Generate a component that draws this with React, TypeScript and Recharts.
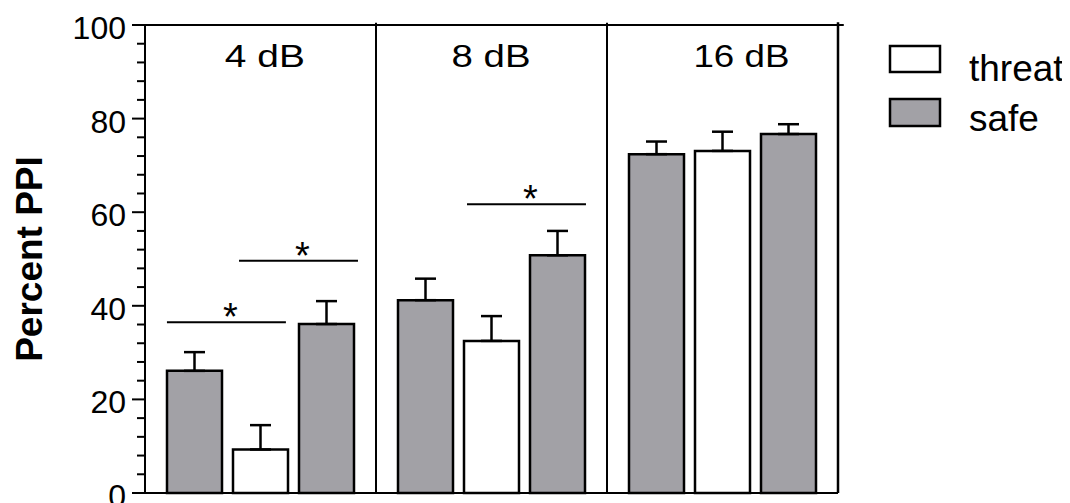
import React from 'react';
import {
  BarChart, Bar, XAxis, YAxis, ErrorBar, ReferenceLine, ReferenceDot, Legend,
} from 'recharts';

// ---- data ----
const categories = ['4 dB', '8 dB', '16 dB'];
const safeFirst = [26.1, 41.2, 72.4];
const safeFirstErr = [4.0, 4.6, 2.7];
const threat = [9.3, 32.5, 73.1];
const threatErr = [5.2, 5.3, 4.1];
const safeSecond = [36.1, 50.8, 76.7];
const safeSecondErr = [4.9, 5.2, 2.1];
const yTicks = [0, 4, 8, 12, 16, 20, 24, 28, 32, 36, 40, 44, 48, 52, 56, 60, 64, 68, 72, 76, 80, 84, 88, 92, 96, 100];
// significance bars: panel-unit x range, y value
const sigFrom = [0.095, 0.407, 1.394];
const sigTo = [0.61, 0.922, 1.909];
const sigY = [36.5, 49.6, 61.7];
// panel title positions (panel units) and baseline value
const titleX = [0.519, 1.498, 2.582];
const titleLen = [80, 79, 96];
const titleY = 91;
const panelEdges = [1, 2];

const GRAY = '#a2a1a6';
const FONT = '"Liberation Sans", Arial, Helvetica, sans-serif';

const data = categories.map((name, i) => ({
  name,
  panel: i + 0.5,
  a: safeFirst[i], aErr: [0, safeFirstErr[i]],
  b: threat[i], bErr: [0, threatErr[i]],
  c: safeSecond[i], cErr: [0, safeSecondErr[i]],
}));

const YTick = (props: any) => {
  const { x, y, payload } = props;
  const major = payload.value % 20 === 0;
  return (
    <g>
      <line x1={x - (major ? 13 : 8)} x2={x} y1={y} y2={y} stroke="#000" strokeWidth={2} />
      {major && (
        <text x={x - 19} y={y + 14} textAnchor="end" fontSize={32} fontFamily={FONT} fill="#000">
          {payload.value}
        </text>
      )}
    </g>
  );
};

const YLabel = (props: any) => {
  const vb = props.viewBox || {};
  const cx = vb.x - 23;
  const cy = vb.y + vb.height / 2;
  return (
    <text
      transform={`translate(${cx},${cy}) rotate(-90)`}
      textAnchor="middle"
      fontSize={37}
      fontWeight="bold"
      fontFamily={FONT}
      fill="#000"
    >
      Percent PPI
    </text>
  );
};

const starLabel = (props: any) => {
  const vb = props.viewBox || {};
  const x = (vb.x ?? vb.x1 ?? 0) + (vb.width ?? 0) / 2 + 4;
  const y = (vb.y ?? vb.y1 ?? 0) + 8;
  return (
    <text x={x} y={y} textAnchor="middle" fontSize={38} fontFamily={FONT} fill="#000">*</text>
  );
};

const makeTitle = (text: string, len: number) => (props: any) => {
  const vb = props.viewBox || {};
  const x = vb.x + (vb.width ?? 0) / 2;
  const y = vb.y + (vb.height ?? 0) / 2;
  return (
    <text x={x} y={y} textAnchor="middle" fontSize={32} fontFamily={FONT} fill="#000"
      textLength={len} lengthAdjust="spacingAndGlyphs">
      {text}
    </text>
  );
};

const LegendContent = () => (
  <svg width={190} height={100} style={{ display: 'block' }}>
    <rect x={10} y={6} width={50} height={26} fill="#fff" stroke="#000" strokeWidth={2.5} />
    <text x={89} y={41} fontSize={37} fontFamily={FONT} fill="#000">threat</text>
    <rect x={10} y={59} width={50} height={27} fill={GRAY} stroke="#000" strokeWidth={2.5} />
    <text x={89} y={91} fontSize={37} fontFamily={FONT} fill="#000">safe</text>
  </svg>
);

export default function App() {
  return (
    <BarChart
      width={1062}
      height={495}
      data={data}
      margin={{ top: 17, right: 232, bottom: 0, left: 57 }}
      barGap={11}
      style={{ fontFamily: FONT }}
    >
      <XAxis xAxisId="cat" dataKey="name" hide />
      <XAxis
        dataKey="panel"
        type="number"
        domain={[0, 3]}
        ticks={[1, 2, 3]}
        allowDataOverflow
        tick={false}
        tickSize={5}
        height={10}
        axisLine={{ stroke: '#000', strokeWidth: 2 }}
        tickLine={{ stroke: '#000', strokeWidth: 2 }}
      />
      <YAxis
        type="number"
        domain={[0, 100]}
        ticks={yTicks}
        interval={0}
        width={80}
        tickSize={0}
        tickMargin={0}
        tickLine={false}
        tick={<YTick />}
        axisLine={{ stroke: '#000', strokeWidth: 2 }}
        label={<YLabel />}
      />
      <Legend
        layout="horizontal"
        verticalAlign="middle"
        align="center"
        content={<LegendContent />}
        wrapperStyle={{ left: 872, top: 32, width: 190, height: 100 }}
      />
      <Bar xAxisId="cat" dataKey="a" name="safe" fill={GRAY} stroke="#000" strokeWidth={2.5} barSize={55} isAnimationActive={false}>
        <ErrorBar dataKey="aErr" direction="y" width={10.5} stroke="#000" strokeWidth={2.5} />
      </Bar>
      <Bar xAxisId="cat" dataKey="b" name="threat" fill="#fff" stroke="#000" strokeWidth={2.5} barSize={55} isAnimationActive={false}>
        <ErrorBar dataKey="bErr" direction="y" width={10.5} stroke="#000" strokeWidth={2.5} />
      </Bar>
      <Bar xAxisId="cat" dataKey="c" name="safe" fill={GRAY} stroke="#000" strokeWidth={2.5} barSize={55} isAnimationActive={false}>
        <ErrorBar dataKey="cErr" direction="y" width={10.5} stroke="#000" strokeWidth={2.5} />
      </Bar>
      <ReferenceLine
        segment={[{ x: 0, y: 100 }, { x: 3.025, y: 100 }]}
        stroke="#000" strokeWidth={2} ifOverflow="visible"
      />
      {panelEdges.map((e) => (
        <ReferenceLine key={`e${e}`} segment={[{ x: e, y: 0 }, { x: e, y: 100.5 }]}
          stroke="#000" strokeWidth={2} ifOverflow="visible" />
      ))}
      <ReferenceLine segment={[{ x: 3, y: 0 }, { x: 3, y: 100.6 }]}
        stroke="#000" strokeWidth={2.5} ifOverflow="visible" />
      {sigY.map((v, i) => (
        <ReferenceLine key={`s${i}`} segment={[{ x: sigFrom[i], y: v }, { x: sigTo[i], y: v }]}
          stroke="#000" strokeWidth={2} label={starLabel} />
      ))}
      {categories.map((c, i) => (
        <ReferenceDot key={`t${i}`} x={titleX[i]} y={titleY} r={0} fill="none" stroke="none"
          label={makeTitle(c, titleLen[i])} />
      ))}
    </BarChart>
  );
}
